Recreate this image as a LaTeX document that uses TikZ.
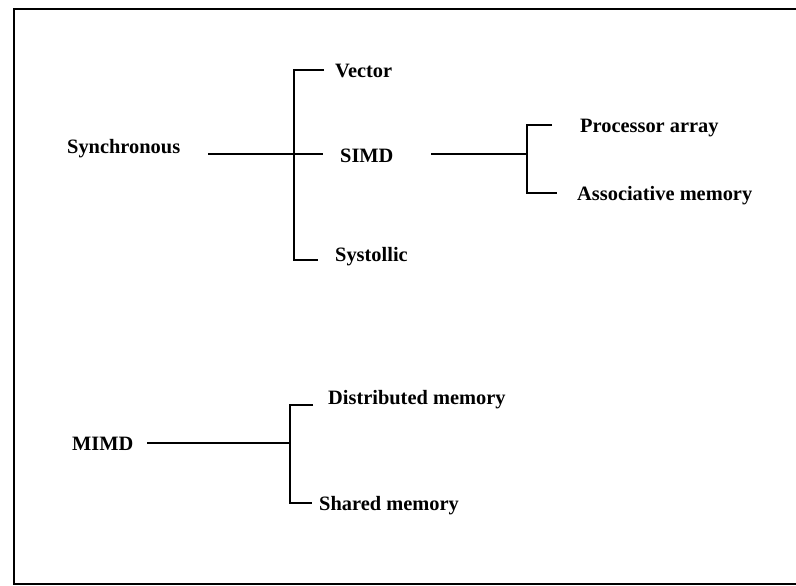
\documentclass[tikz,border=0pt]{standalone}
\usepackage{fontspec}
\setmainfont{Liberation Serif}
\begin{document}
\begin{tikzpicture}[x=1pt,y=-1pt,
  lbl/.style={anchor=west,inner sep=0pt,font=\fontsize{20.4}{23}\selectfont\bfseries},
  ln/.style={line width=1.6pt,line cap=butt,line join=miter}]
\useasboundingbox (0,0) rectangle (796,586);
% frame (open on the right)
\draw[line width=1.6pt] (796,9) -- (14,9) -- (14,584) -- (796,584);

% labels
\node[lbl] (sync) at (67,149) {Synchronous};
\node[lbl] (vec) at (335,71) {Vector};
\node[lbl] (simd) at (340,156) {SIMD};
\node[lbl] (sys) at (335,257) {Systollic};
\node[lbl] (pa) at (580,128) {Processor array};
\node[lbl] (am) at (577,196) {Associative memory};
\node[lbl] (mimd) at (72,444) {MIMD};
\node[lbl] (dm) at (328,400) {Distributed memory};
\node[lbl] (sm) at (319,506) {Shared memory};

% junction coordinates
\coordinate (s0) at (208,154);
\coordinate (s1) at (323,154);
\coordinate (bt) at (294,70);
\coordinate (bb) at (294,260);
\coordinate (vt) at (324,70);
\coordinate (st) at (318,260);

\coordinate (p0) at (431,154);
\coordinate (pj) at (527,154);
\coordinate (pt) at (527,125);
\coordinate (pb) at (527,193);
\coordinate (pte) at (552,125);
\coordinate (pbe) at (557,193);

\coordinate (m0) at (147,443);
\coordinate (mj) at (290,443);
\coordinate (mt) at (290,405);
\coordinate (mb) at (290,503);
\coordinate (mte) at (313,405);
\coordinate (mbe) at (312,503);

% connectors
\draw[ln] (s0) -- (s1);
\draw[ln] (vt) -- (bt) -- (bb) -- (st);

\draw[ln] (p0) -- (pj);
\draw[ln] (pte) -- (pt) -- (pb) -- (pbe);

\draw[ln] (m0) -- (mj);
\draw[ln] (mte) -- (mt) -- (mb) -- (mbe);
\end{tikzpicture}
\end{document}
